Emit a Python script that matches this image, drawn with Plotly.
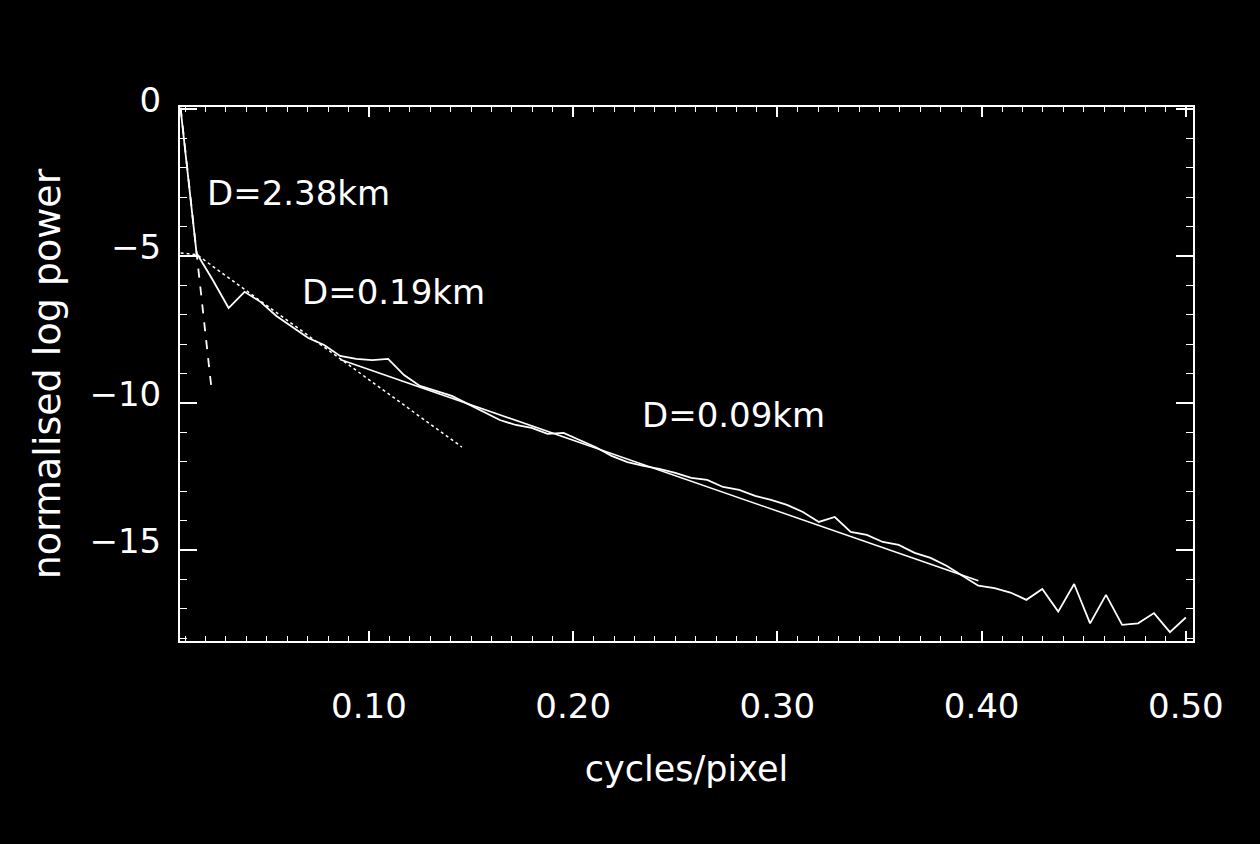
import plotly.graph_objects as go

# ---- data ----
freq = [0.0078, 0.0156, 0.0234, 0.0313, 0.0391, 0.0469, 0.0547, 0.0625,
        0.0703, 0.0781, 0.0859, 0.0938, 0.1016, 0.1094, 0.1172, 0.1250,
        0.1328, 0.1406, 0.1484, 0.1563, 0.1641, 0.1719, 0.1797, 0.1875,
        0.1953, 0.2031, 0.2109, 0.2188, 0.2266, 0.2344, 0.2422, 0.2500,
        0.2578, 0.2656, 0.2734, 0.2813, 0.2891, 0.2969, 0.3047, 0.3125,
        0.3203, 0.3281, 0.3359, 0.3438, 0.3516, 0.3594, 0.3672, 0.3750,
        0.3828, 0.3906, 0.3984, 0.4063, 0.4141, 0.4219, 0.4297, 0.4375,
        0.4453, 0.4531, 0.4609, 0.4688, 0.4766, 0.4844, 0.4922, 0.5000]
log_power = [0.00, -4.90, -5.80, -6.77, -6.22, -6.56, -7.04, -7.41,
             -7.79, -8.03, -8.40, -8.50, -8.54, -8.50, -9.05, -9.42,
             -9.59, -9.76, -10.03, -10.31, -10.58, -10.75, -10.85, -11.05,
             -11.02, -11.26, -11.50, -11.80, -12.01, -12.14, -12.24, -12.38,
             -12.55, -12.62, -12.86, -12.96, -13.16, -13.30, -13.47, -13.71,
             -14.05, -13.88, -14.39, -14.49, -14.73, -14.83, -15.10, -15.27,
             -15.54, -15.88, -16.22, -16.30, -16.45, -16.70, -16.33, -17.10,
             -16.16, -17.50, -16.53, -17.55, -17.50, -17.15, -17.80, -17.30]

fit1_x = [0.0078, 0.0231]
fit1_y = [0.05, -9.63]
fit2_x = [0.0078, 0.0156, 0.1455]
fit2_y = [-4.90, -4.95, -11.50]
fit3_x = [0.0859, 0.3984]
fit3_y = [-8.52, -16.05]

labels = ["D=2.38km", "D=0.19km", "D=0.09km"]
label_x = [0.0197, 0.0662, 0.2326]
label_y = [-2.86, -6.22, -10.41]

x_tickvals = [0.1, 0.2, 0.3, 0.4, 0.5]
x_ticktext = ["0.10", "0.20", "0.30", "0.40", "0.50"]
y_tickvals = [0, -5, -10, -15]
y_ticktext = ["0", "\u22125", "\u221210", "\u221215"]

FONT = "DejaVu Sans, sans-serif"
W = "white"

fig = go.Figure()
fig.add_trace(go.Scatter(x=freq, y=log_power, mode="lines",
                         line=dict(color=W, width=1.8), showlegend=False))
fig.add_trace(go.Scatter(x=fit1_x, y=fit1_y, mode="lines",
                         line=dict(color=W, width=1.8, dash="dash"), showlegend=False))
fig.add_trace(go.Scatter(x=fit2_x, y=fit2_y, mode="lines",
                         line=dict(color=W, width=1.5, dash="dot"), showlegend=False))
fig.add_trace(go.Scatter(x=fit3_x, y=fit3_y, mode="lines",
                         line=dict(color=W, width=1.5), showlegend=False))

for t, lx, ly in zip(labels, label_x, label_y):
    fig.add_annotation(x=lx, y=ly, text=t, showarrow=False, xanchor="left",
                       yanchor="middle", font=dict(family=FONT, size=34, color=W))

fig.update_layout(
    width=1260, height=844, autosize=False,
    paper_bgcolor="black", plot_bgcolor="black",
    margin=dict(l=180, r=67, t=107, b=203),
    font=dict(family=FONT, size=34, color=W),
    xaxis=dict(range=[0.0075, 0.5035], showgrid=False, zeroline=False,
               showline=True, linecolor=W, linewidth=2, mirror="allticks",
               ticks="inside", ticklen=10, tickwidth=1.5, tickcolor=W,
               tickmode="array", tickvals=x_tickvals, ticktext=x_ticktext,
               ticklabelstandoff=34,
               tickfont=dict(family=FONT, size=34, color=W),
               minor=dict(tickmode="linear", tick0=0, dtick=0.01, ticks="inside",
                          ticklen=5, tickwidth=1.2, tickcolor=W, showgrid=False),
               title=dict(text="cycles/pixel", standoff=32,
                          font=dict(family=FONT, size=35, color=W))),
    yaxis=dict(range=[-18.1, 0.07], showgrid=False, zeroline=False,
               showline=True, linecolor=W, linewidth=2, mirror="allticks",
               ticks="inside", ticklen=17, tickwidth=1.5, tickcolor=W,
               tickmode="array", tickvals=y_tickvals, ticktext=y_ticktext,
               ticklabelstandoff=10, ticklabelshift=-9,
               tickfont=dict(family=FONT, size=34, color=W),
               minor=dict(tickmode="linear", tick0=0, dtick=1, ticks="inside",
                          ticklen=7, tickwidth=1.2, tickcolor=W, showgrid=False),
               title=dict(text="normalised log power", standoff=17,
                          font=dict(family=FONT, size=38, color=W))),
)

fig.write_html("out.html", config={"displayModeBar": False},
               post_script="document.body.style.margin='0';document.body.style.background='black';")
